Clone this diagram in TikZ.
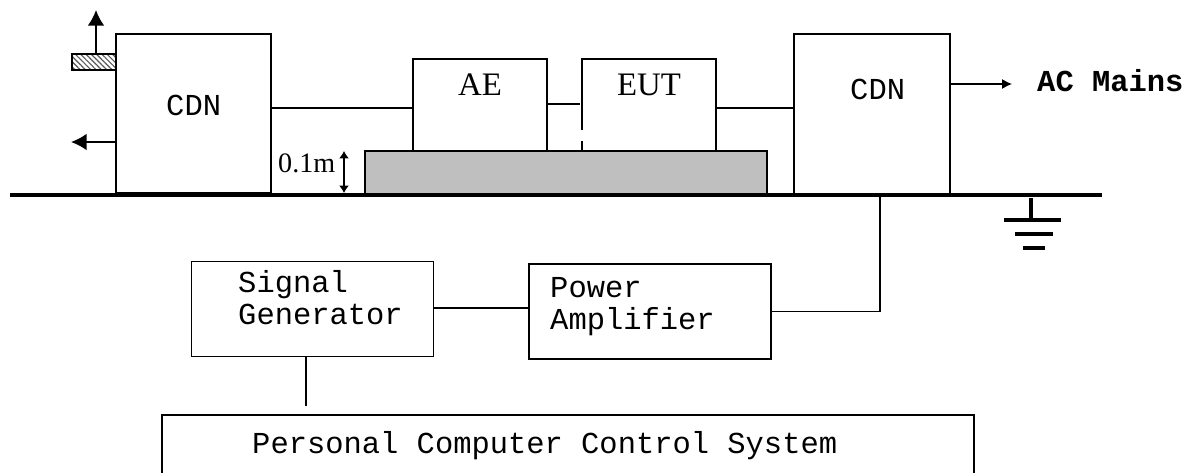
\documentclass[tikz,border=0pt]{standalone}
\usepackage{fontspec}
\setmainfont{Liberation Serif}
\setmonofont{Liberation Mono}
\usetikzlibrary{patterns.meta,arrows.meta}
\tikzset{
  unitbox/.style={draw,line width=1pt,fill=white,inner sep=0pt},
  wire/.style={line width=1pt},
  bigtip/.style={-{Latex[length=0.47cm,width=0.5cm]},line width=1.4pt},
  gndbar/.style={line width=3.8pt},
  monolabel/.style={font=\ttfamily\fontsize{26}{26.5}\selectfont,align=left,anchor=base west,inner sep=0pt},
  seriflabel/.style={font=\fontsize{28}{30}\selectfont,anchor=base,inner sep=0pt}
}
\begin{document}
\begin{tikzpicture}[x=0.03cm,y=-0.03cm]
\useasboundingbox (0,0) rectangle (1199,472);
\node[unitbox,fill=black!25,minimum width=12.06cm,minimum height=1.29cm](table) at (566,172.5){};
\node[unitbox,minimum width=4.65cm,minimum height=4.77cm](cdnl) at (193.5,113.5){};
\node[unitbox,minimum width=4.02cm,minimum height=2.76cm](ae) at (480,105){};
\node[unitbox,minimum width=4.02cm,minimum height=2.76cm](eut) at (649,105){};
\node[unitbox,minimum width=4.68cm,minimum height=4.8cm](cdnr) at (872,114){};
\node[unitbox,minimum width=7.26cm,minimum height=2.85cm](sg) at (312.5,309){};
\node[unitbox,minimum width=7.26cm,minimum height=2.85cm](pa) at (650,311.5){};
\node[unitbox,minimum width=24.36cm,minimum height=1.95cm](pc) at (568,447.5){};
\node[draw,line width=1pt,pattern={Lines[angle=-45,distance=3.2pt,line width=1pt]},pattern color=black!65,minimum width=1.32cm,minimum height=0.48cm,inner sep=0pt](clamp) at (94,62){};
\node[monolabel](cdnltext) at (166,115){CDN};
\node[monolabel](cdnrtext) at (850,99){CDN};
\node[seriflabel](aetext) at (480,95){AE};
\node[seriflabel](euttext) at (649,95){EUT};
\node[font=\fontsize{24}{26}\selectfont,anchor=base west,inner sep=0pt](htext) at (278,172.5){0.1m};
\node[monolabel,font=\ttfamily\bfseries\fontsize{26}{26.5}\selectfont](mains) at (1037,91){AC Mains};
\node[monolabel](sigtext) at (238,324){Signal\\Generator};
\node[monolabel](amptext) at (550,329){Power\\Amplifier};
\node[monolabel](pctext) at (252,453){Personal Computer Control System};
% ground plane
\coordinate (gl) at (10,195);
\coordinate (gr) at (1102,195);
\coordinate (gtop) at (1031,198);
\coordinate (g1) at (1031,220);
\draw[line width=3.9pt](gl)--(gr);
\draw[line width=2.6pt](gtop)--(g1);
\draw[gndbar](1004,220)--(1061,220);
\draw[gndbar](1015,234)--(1053,234);
\draw[gndbar](1023,248)--(1045,248);
% connections
\coordinate (sgend) at (306,406);
\coordinate (aeend) at (580,104);
\coordinate (acend) at (1012,84);
\coordinate (upend) at (96,10);
\coordinate (leftend) at (71,142);
\coordinate (pacorner) at (880,311.5);
\draw[wire](cdnl.east|-0,108)--(ae.west|-0,108);
\draw[wire](ae.east|-aeend)--(aeend);
\draw[wire](eut.east|-0,108)--(cdnr.west|-0,108);
\draw[wire](sg.east|-0,308)--(pa.west|-0,308);
\draw[wire](pa.east)--(pacorner)--(pacorner|-gl);
\draw[wire](sg.south-|sgend)--(sgend);
\draw[wire,-{Latex[length=0.3cm,width=0.3cm]}](cdnr.east|-acend)--(acend);
\draw[white,line width=2pt](eut.west|-0,130)--(eut.west|-0,141);
% arrows at the left unit
\draw[bigtip](upend|-clamp.north)--(upend);
\draw[bigtip](cdnl.west|-leftend)--(leftend);
\draw[{Latex[length=0.22cm,width=0.3cm]}-{Latex[length=0.22cm,width=0.3cm]},line width=1.4pt](344,151)--(344,193);
\end{tikzpicture}
\end{document}
